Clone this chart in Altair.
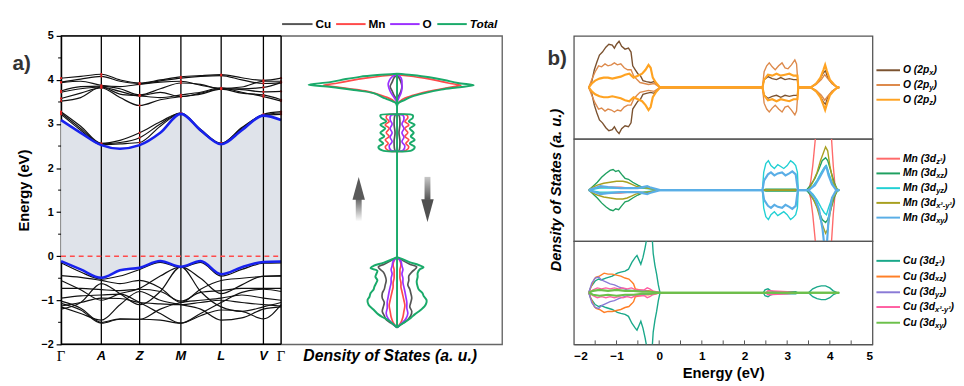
import altair as alt
import pandas as pd

FONT = "Liberation Sans"
SERIF = "Liberation Serif"

# ---------------- panel a) band structure ----------------
K_LABELS = ["Γ", "A", "Z", "M", "L", "V", "Γ"]
K_POS = [0, 41, 80, 122, 163, 206, 224]
# sampling grid along the path: Γ, ½, A, ½, Z, ½, M, ½, L, ½, V, Γ
K_GRID = [0, 20, 41, 60, 80, 101, 122, 142, 163, 184, 206, 224]

CBM = [3.09, 2.80, 2.52, 2.44, 2.52, 2.80, 3.23, 2.86, 2.54, 2.86, 3.19, 3.09]
VBM = [-0.11, -0.30, -0.49, -0.32, -0.26, -0.11, -0.24, -0.11, -0.41, -0.25, -0.13, -0.12]

UPPER_BANDS = [
    [4.04, 4.08, 4.13, 4.00, 3.93, 4.00, 4.07, 4.10, 4.12, 4.05, 3.99, 4.04],
    [3.95, 4.02, 4.08, 3.97, 3.92, 3.98, 4.04, 4.08, 4.10, 4.00, 3.92, 3.94],
    [3.94, 3.97, 3.88, 3.85, 3.90, 3.95, 3.97, 3.88, 3.81, 3.84, 3.97, 3.97],
    [3.75, 3.85, 3.86, 3.80, 3.66, 3.80, 3.93, 3.90, 3.80, 3.80, 3.83, 3.94],
    [3.72, 3.80, 3.84, 3.74, 3.64, 3.72, 3.62, 3.70, 3.80, 3.78, 3.73, 3.74],
    [3.58, 3.70, 3.82, 3.60, 3.42, 3.55, 3.62, 3.68, 3.79, 3.70, 3.66, 3.55],
    [3.52, 3.60, 3.84, 3.68, 3.64, 3.60, 3.66, 3.72, 3.82, 3.72, 3.62, 3.52],
]
COND_BANDS = [
    [3.28, 2.95, 2.56, 2.63, 2.80, 3.05, 3.25, 2.88, 2.56, 2.92, 3.22, 3.28],
    [3.25, 2.90, 2.55, 2.58, 2.69, 3.00, 3.25, 2.86, 2.56, 2.90, 3.21, 3.25],
    [3.22, 2.86, 2.53, 2.55, 2.58, 2.95, 3.24, 2.84, 2.55, 2.88, 3.20, 3.22],
]
VAL_BANDS = [
    [-0.15, -0.36, -0.52, -0.45, -0.30, -0.14, -0.26, -0.14, -0.45, -0.30, -0.16, -0.15],
    [-0.44, -0.48, -0.55, -0.62, -0.55, -0.72, -1.05, -0.75, -0.55, -0.50, -0.46, -0.44],
    [-0.55, -0.76, -1.00, -0.85, -0.73, -0.45, -0.24, -0.50, -0.85, -0.65, -0.45, -0.45],
    [-0.73, -0.73, -0.76, -0.78, -0.75, -0.80, -1.02, -0.82, -0.78, -0.73, -0.73, -0.73],
    [-0.95, -0.90, -0.88, -0.86, -1.05, -1.30, -1.52, -1.30, -1.05, -0.82, -0.75, -0.80],
    [-1.02, -1.18, -1.50, -1.42, -1.43, -1.20, -1.05, -1.00, -0.95, -0.88, -0.95, -1.00],
    [-1.07, -1.22, -1.52, -1.43, -1.43, -1.45, -1.52, -1.35, -1.22, -1.25, -1.42, -1.10],
    [-1.13, -1.05, -0.95, -0.96, -1.05, -1.08, -1.10, -1.05, -1.00, -1.05, -1.10, -1.13],
    [-1.20, -1.05, -0.62, -0.85, -1.10, -0.80, -0.24, -0.80, -1.15, -1.25, -1.15, -1.05],
    [-1.15, -1.30, -1.45, -1.10, -0.80, -1.00, -1.10, -1.20, -1.45, -1.40, -1.20, -1.15],
]
Y_MAJOR = [-2, -1, 0, 1, 2, 3, 4, 5]
Y_MINOR = [-1.5, -0.5, 0.5, 1.5, 2.5, 3.5, 4.5]

# ---------------- DOS (spin up drawn to the left, spin down to the right) ----------------
DOS_UP = {
    "Cu": [(-1.62, 0), (-1.52, 6), (-1.44, 11), (-1.35, 13), (-1.25, 15), (-1.15, 14), (-1.05, 13),
           (-0.95, 15), (-0.84, 15), (-0.75, 13), (-0.65, 12), (-0.55, 11), (-0.45, 12), (-0.36, 14),
           (-0.28, 18), (-0.24, 19), (-0.18, 13), (-0.10, 6), (-0.02, 0),
           (2.38, 0), (2.40, 2), (2.60, 3), (2.80, 2), (3.00, 3), (3.20, 2), (3.22, 0),
           (3.55, 0), (3.65, 3), (3.75, 5), (3.85, 7), (3.95, 5), (4.05, 3), (4.12, 0)],
    "Mn": [(-1.62, 0), (-1.50, 4), (-1.38, 6), (-1.25, 7), (-1.12, 8), (-1.00, 7), (-0.90, 6),
           (-0.80, 5), (-0.70, 4), (-0.60, 4), (-0.50, 3), (-0.40, 3), (-0.30, 3), (-0.20, 4),
           (-0.10, 3), (-0.02, 0),
           (2.38, 0), (2.40, 9), (2.48, 12), (2.56, 9), (2.64, 12), (2.72, 8), (2.80, 11), (2.90, 8),
           (2.98, 12), (3.06, 8), (3.14, 11), (3.20, 10), (3.22, 0),
           (3.45, 0), (3.55, 5), (3.62, 12), (3.68, 20), (3.74, 30), (3.80, 48), (3.85, 65),
           (3.88, 75), (3.93, 60), (3.99, 46), (4.04, 32), (4.09, 15), (4.12, 0)],
    "O": [(-1.62, 0), (-1.52, 5), (-1.42, 9), (-1.30, 11), (-1.18, 10), (-1.05, 10), (-0.92, 9),
          (-0.80, 8), (-0.70, 7), (-0.60, 6), (-0.50, 6), (-0.40, 5), (-0.30, 6), (-0.22, 5),
          (-0.12, 4), (-0.02, 0),
          (2.38, 0), (2.40, 6), (2.50, 8), (2.60, 5), (2.70, 7), (2.80, 5), (2.90, 7), (3.00, 5),
          (3.10, 7), (3.20, 6), (3.22, 0),
          (3.50, 0), (3.60, 3), (3.70, 6), (3.80, 8), (3.90, 9), (3.98, 8), (4.05, 6), (4.10, 3),
          (4.13, 0)],
    "Total": [(-1.62, 0), (-1.52, 5), (-1.44, 10), (-1.38, 15), (-1.32, 19), (-1.21, 24), (-1.10, 29),
              (-0.99, 30), (-0.92, 28), (-0.84, 27), (-0.76, 24), (-0.69, 23), (-0.60, 21),
              (-0.54, 20), (-0.47, 22), (-0.40, 21), (-0.33, 20), (-0.27, 27), (-0.22, 24),
              (-0.15, 14), (-0.08, 6), (-0.02, 0),
              (2.38, 0), (2.40, 15), (2.48, 19), (2.56, 14), (2.64, 18), (2.72, 13), (2.80, 17),
              (2.90, 12), (2.98, 17), (3.06, 11), (3.14, 16), (3.20, 17), (3.22, 0),
              (3.40, 0), (3.47, 1), (3.51, 4), (3.58, 12), (3.70, 24), (3.77, 44), (3.84, 67),
              (3.89, 90), (3.95, 68), (4.02, 52), (4.07, 38), (4.11, 20), (4.14, 0)],
}
DOS_DOWN = {
    "Cu": [(-1.62, 0), (-1.52, 6), (-1.44, 11), (-1.35, 14), (-1.25, 15), (-1.15, 13), (-1.05, 14),
           (-0.95, 15), (-0.84, 14), (-0.75, 13), (-0.65, 11), (-0.55, 12), (-0.45, 12), (-0.36, 15),
           (-0.28, 19), (-0.24, 20), (-0.18, 13), (-0.10, 6), (-0.02, 0),
           (2.38, 0), (2.40, 2), (2.60, 3), (2.80, 2), (3.00, 3), (3.20, 2), (3.22, 0),
           (3.55, 0), (3.65, 2), (3.75, 4), (3.85, 5), (3.95, 4), (4.05, 2), (4.12, 0)],
    "Mn": [(-1.62, 0), (-1.50, 4), (-1.38, 6), (-1.25, 7), (-1.12, 8), (-1.00, 7), (-0.90, 6),
           (-0.80, 5), (-0.70, 4), (-0.60, 4), (-0.50, 3), (-0.40, 3), (-0.30, 3), (-0.20, 4),
           (-0.10, 3), (-0.02, 0),
           (2.38, 0), (2.40, 9), (2.48, 12), (2.56, 9), (2.64, 12), (2.72, 8), (2.80, 11), (2.90, 8),
           (2.98, 12), (3.06, 8), (3.14, 11), (3.20, 10), (3.22, 0),
           (3.45, 0), (3.55, 5), (3.62, 12), (3.68, 21), (3.74, 32), (3.80, 46), (3.85, 58),
           (3.88, 65), (3.93, 52), (3.99, 40), (4.04, 28), (4.09, 12), (4.12, 0)],
    "O": [(-1.62, 0), (-1.52, 5), (-1.42, 9), (-1.30, 11), (-1.18, 10), (-1.05, 10), (-0.92, 9),
          (-0.80, 8), (-0.70, 7), (-0.60, 6), (-0.50, 6), (-0.40, 5), (-0.30, 6), (-0.22, 5),
          (-0.12, 4), (-0.02, 0),
          (2.38, 0), (2.40, 6), (2.50, 8), (2.60, 5), (2.70, 7), (2.80, 5), (2.90, 7), (3.00, 5),
          (3.10, 7), (3.20, 6), (3.22, 0),
          (3.50, 0), (3.60, 2), (3.70, 4), (3.80, 5), (3.90, 5), (3.98, 5), (4.05, 4), (4.10, 2),
          (4.13, 0)],
    "Total": [(-1.62, 0), (-1.55, 4), (-1.48, 9), (-1.40, 14), (-1.32, 18), (-1.22, 24), (-1.14, 28),
              (-1.05, 30), (-0.99, 30), (-0.90, 27), (-0.84, 26), (-0.75, 22), (-0.69, 21),
              (-0.58, 20), (-0.47, 21), (-0.38, 21), (-0.30, 23), (-0.25, 27), (-0.20, 22),
              (-0.13, 12), (-0.06, 5), (-0.02, 0),
              (2.38, 0), (2.40, 15), (2.48, 18), (2.56, 13), (2.64, 18), (2.72, 14), (2.80, 17),
              (2.90, 13), (2.98, 18), (3.06, 12), (3.14, 16), (3.20, 16), (3.22, 0),
              (3.40, 0), (3.47, 1), (3.55, 8), (3.62, 15), (3.70, 28), (3.78, 45), (3.83, 61),
              (3.88, 78), (3.93, 62), (4.00, 48), (4.06, 33), (4.11, 15), (4.14, 0)],
}
DOS_SPECIES = ["Cu", "Mn", "O", "Total"]
DOS_COLORS = {"Cu": "#555555", "Mn": "#ff4a4a", "O": "#9b30ff", "Total": "#1aaa6a"}
DOS_CENTER = [-1.62, 4.14]
# spin arrows (DOS units): shaft x-range, shaft energy range, head centre
ARROW_UP = {"x": (-42, -36), "E": (0.79, 1.30), "head": (-39, 1.54)}
ARROW_DN = {"x": (28, 34), "E": (1.28, 1.80), "head": (31, 1.035)}

# ---------------- panel b) projected DOS ----------------
O_ORBS = {
    "O (2px)": [(-1.65, 0), (-1.58, 6), (-1.52, 18), (-1.46, 26), (-1.40, 33), (-1.33, 36), (-1.25, 41),
                (-1.18, 44), (-1.10, 43), (-1.05, 40), (-1.00, 44), (-0.94, 47), (-0.88, 42),
                (-0.80, 39), (-0.72, 40), (-0.66, 36), (-0.62, 22), (-0.56, 18), (-0.50, 14),
                (-0.44, 12), (-0.38, 7), (-0.30, 6), (-0.20, 5), (-0.12, 6), (-0.05, 3), (0.02, 0),
                (2.42, 0), (2.46, 8), (2.55, 11), (2.65, 9), (2.75, 8), (2.85, 10), (2.95, 8),
                (3.05, 9), (3.15, 8), (3.24, 8), (3.26, 0), (3.55, 0), (3.65, 3), (3.75, 7),
                (3.85, 15), (3.90, 17), (3.95, 10), (4.05, 4), (4.18, 0), (4.22, 0)],
    "O (2py)": [(-1.65, 0), (-1.58, 8), (-1.50, 16), (-1.42, 22), (-1.35, 21), (-1.27, 24), (-1.20, 22),
                (-1.12, 23), (-1.05, 25), (-0.98, 23), (-0.90, 24), (-0.82, 20), (-0.74, 18),
                (-0.66, 18), (-0.60, 12), (-0.52, 8), (-0.45, 5), (-0.35, 4), (-0.25, 3),
                (-0.12, 4), (0.02, 0),
                (2.42, 0), (2.46, 16), (2.52, 22), (2.58, 25), (2.65, 21), (2.72, 18), (2.80, 22),
                (2.88, 25), (2.95, 20), (3.02, 19), (3.10, 23), (3.18, 28), (3.22, 24), (3.26, 0),
                (3.55, 0), (3.68, 3), (3.80, 8), (3.88, 13), (3.95, 9), (4.05, 4), (4.18, 0), (4.22, 0)],
    "O (2pz)": [(-1.65, 0), (-1.58, 4), (-1.50, 7), (-1.40, 9), (-1.30, 10), (-1.20, 10), (-1.10, 9),
                (-1.00, 10), (-0.90, 11), (-0.80, 13), (-0.70, 14), (-0.60, 10), (-0.50, 12),
                (-0.40, 14), (-0.32, 18), (-0.25, 23), (-0.20, 20), (-0.15, 10), (-0.08, 5), (0.02, 0),
                (2.42, 0), (2.46, 8), (2.55, 13), (2.65, 12), (2.75, 14), (2.85, 12), (2.95, 13),
                (3.05, 14), (3.15, 12), (3.24, 12), (3.26, 0), (3.55, 0), (3.68, 4), (3.78, 10),
                (3.85, 18), (3.89, 23), (3.93, 17), (4.00, 8), (4.10, 3), (4.18, 0), (4.22, 0)],
}
O_COLORS = ["#7b5230", "#dd8a4c", "#ffa322"]
O_LABELS = [("O (2p", "x"), ("O (2p", "y"), ("O (2p", "z")]

MN_ORBS = {
    "dz2": [(-1.65, 0), (-1.50, 2), (-1.30, 3), (-1.10, 3), (-0.90, 3), (-0.70, 2), (-0.50, 2),
            (-0.30, 2), (0.02, 0), (3.50, 0), (3.55, 8), (3.60, 25), (3.66, 52), (3.72, 65),
            (3.85, 72), (3.95, 72), (4.02, 65), (4.04, 52), (4.08, 25), (4.12, 5), (4.15, 0), (4.22, 0)],
    "dxz": [(-1.65, 0), (-1.55, 4), (-1.45, 8), (-1.35, 13), (-1.25, 17), (-1.15, 20), (-1.08, 21),
            (-1.02, 19), (-0.95, 20), (-0.88, 16), (-0.80, 12), (-0.72, 11), (-0.62, 8), (-0.50, 5),
            (-0.40, 3), (-0.25, 2), (0.02, 0), (2.42, 0), (2.50, 1), (3.20, 1), (3.25, 0), (3.45, 0),
            (3.55, 5), (3.65, 12), (3.75, 22), (3.82, 30), (3.90, 33), (3.95, 30), (4.02, 20),
            (4.10, 8), (4.18, 0), (4.22, 0)],
    "dyz": [(-1.65, 0), (-1.40, 2), (-1.10, 2), (-0.80, 2), (-0.40, 2), (0.02, 0),
            (2.42, 0), (2.45, 18), (2.50, 27), (2.56, 30), (2.62, 25), (2.70, 22), (2.78, 26),
            (2.85, 24), (2.92, 22), (3.00, 25), (3.08, 30), (3.14, 28), (3.20, 25), (3.24, 18),
            (3.26, 0), (3.50, 0), (3.60, 4), (3.70, 10), (3.80, 18), (3.87, 23), (3.92, 25),
            (3.97, 18), (4.05, 8), (4.15, 2), (4.22, 0)],
    "dx2y2": [(-1.65, 0), (-1.55, 3), (-1.45, 5), (-1.30, 7), (-1.15, 8), (-1.00, 9), (-0.85, 9),
              (-0.75, 8), (-0.65, 6), (-0.55, 4), (-0.45, 3), (-0.30, 2), (0.02, 0), (3.50, 0),
              (3.60, 8), (3.70, 18), (3.78, 30), (3.85, 38), (3.90, 44), (3.95, 40), (4.00, 25),
              (4.08, 8), (4.18, 0), (4.22, 0)],
    "dxy": [(-1.65, 0), (-1.45, 3), (-1.38, 4), (-1.20, 3), (-0.90, 2), (-0.50, 2), (-0.28, 4),
            (-0.22, 3), (0.02, 0),
            (2.42, 0), (2.46, 10), (2.55, 16), (2.62, 18), (2.70, 15), (2.78, 17), (2.88, 18),
            (2.96, 15), (3.05, 17), (3.12, 19), (3.20, 16), (3.25, 0), (3.50, 0), (3.65, 5),
            (3.75, 12), (3.85, 20), (3.90, 24), (3.93, 22), (3.97, 15), (4.05, 6), (4.15, 0), (4.22, 0)],
}
MN_DXY_DOWN = [(-1.65, 0), (-1.45, 3), (-1.38, 4), (-1.20, 3), (-0.90, 2), (-0.50, 2), (-0.28, 4),
               (-0.22, 3), (0.02, 0),
               (2.42, 0), (2.46, 10), (2.55, 16), (2.62, 18), (2.70, 15), (2.78, 17), (2.88, 18),
               (2.96, 15), (3.05, 17), (3.12, 19), (3.20, 16), (3.25, 0), (3.50, 0), (3.65, 8),
               (3.75, 20), (3.83, 40), (3.88, 60), (3.92, 62), (3.97, 30), (4.05, 8), (4.15, 0), (4.22, 0)]
MN_COLORS = ["#ff6a6a", "#1fa060", "#22d0d4", "#a8a020", "#5aaee6"]
MN_LABELS = [("Mn (3d", "z²"), ("Mn (3d", "xz"), ("Mn (3d", "yz"), ("Mn (3d", "x²-y²"), ("Mn (3d", "xy")]

CU_ORBS = {
    "dz2": [(-1.65, 0), (-1.60, 6), (-1.50, 12), (-1.42, 14), (-1.36, 13), (-1.25, 15), (-1.10, 17),
            (-0.98, 20), (-0.90, 21), (-0.80, 22), (-0.72, 24), (-0.64, 31), (-0.56, 36), (-0.52, 38),
            (-0.47, 33), (-0.43, 29), (-0.38, 36), (-0.33, 46), (-0.27, 60), (-0.22, 66), (-0.17, 60),
            (-0.14, 40), (-0.10, 28), (-0.06, 19), (-0.02, 8), (0.02, 0),
            (2.44, 0), (2.48, 3), (2.55, 4), (2.62, 2), (2.70, 1), (3.20, 1), (3.25, 0),
            (3.50, 0), (3.60, 4), (3.70, 6), (3.80, 7), (3.90, 7), (4.00, 5), (4.08, 2), (4.18, 0), (4.22, 0)],
    "dxz": [(-1.65, 0), (-1.58, 8), (-1.52, 14), (-1.48, 16), (-1.40, 17), (-1.29, 20), (-1.20, 19),
            (-1.10, 19), (-1.00, 18), (-0.90, 17), (-0.80, 15), (-0.71, 14), (-0.64, 11), (-0.60, 9),
            (-0.56, 4), (-0.45, 3), (-0.35, 2), (-0.25, 2), (0.02, 0)],
    "dyz": [(-1.65, 0), (-1.58, 10), (-1.50, 15), (-1.42, 16), (-1.35, 13), (-1.25, 11), (-1.15, 9),
            (-1.05, 8), (-0.95, 6), (-0.88, 5), (-0.75, 3), (-0.60, 2), (-0.40, 2), (0.02, 0)],
    "dx2y2": [(-1.65, 0), (-1.55, 3), (-1.45, 5), (-1.35, 4), (-1.25, 5), (-1.15, 4), (-1.05, 5),
              (-0.95, 4), (-0.85, 5), (-0.75, 4), (-0.65, 5), (-0.55, 3), (-0.45, 3), (-0.35, 3),
              (-0.28, 5), (-0.22, 4), (-0.15, 2), (0.02, 0), (2.50, 0), (2.55, 2), (3.0, 1), (3.2, 0)],
    "dxy": [(-1.65, 0), (-1.55, 2), (-1.40, 3), (-1.20, 2), (-1.00, 3), (-0.80, 2), (-0.60, 2),
            (-0.40, 1), (-0.20, 1), (0.02, 0), (4.22, 0)],
}
CU_COLORS = ["#1aa88a", "#ff7f27", "#8a7ad6", "#ff5fa2", "#6cc04a"]
CU_LABELS = [("Cu (3d", "z²"), ("Cu (3d", "xz"), ("Cu (3d", "yz"), ("Cu (3d", "x²-y²"), ("Cu (3d", "xy")]
E_MAJOR = [-2, -1, 0, 1, 2, 3, 4, 5]
E_MINOR = [-1.5, -1, -0.5, 0, 0.5, 1, 1.5, 2, 2.5, 3, 3.5, 4, 4.5]

# ---------------- helpers ----------------
ARIAL_BOLD = {" ": 278, "(": 333, ")": 333, "2": 556, "3": 556, "O": 778, "M": 833, "C": 722,
              "n": 611, "u": 611, "d": 611, "p": 611, "x": 556, "y": 556, "z": 500, "²": 333, "-": 333}


def text_w(s, size):
    return sum(ARIAL_BOLD.get(c, 556) for c in s) * size / 1000.0


def one():
    return pd.DataFrame({"d": [0]})


def deco_text(txt, x, y, size, color="black", style="normal", weight="bold", font=FONT, align="left", angle=0):
    return alt.Chart(one()).mark_text(
        text=txt, font=font, fontSize=size, fontWeight=weight, fontStyle=style, color=color,
        align=align, baseline="middle", angle=angle
    ).encode(x=alt.value(x), y=alt.value(y))


def deco_line(x1, x2, y, color, width=2.0, opacity=1.0):
    return alt.Chart(one()).mark_rule(color=color, strokeWidth=width, opacity=opacity).encode(
        x=alt.value(x1), x2=alt.value(x2), y=alt.value(y))


def segments(pts):
    """Split a curve into clusters wherever it runs along zero over a long gap."""
    seg, out = 0, []
    for i, (e, v) in enumerate(pts):
        if i > 0 and pts[i - 1][1] == 0 and v == 0 and e - pts[i - 1][0] > 0.15:
            seg += 1
        out.append((seg, e, v))
    return out


# ---------------- combined band + DOS chart (one shared x range, px-like units) ----------------
BW, DW, BH = 224, 225, 314
DOS_X0 = BW + 118          # where the DOS zero line sits inside the combined panel
XK = alt.X("k:Q", scale=alt.Scale(domain=[0, BW + DW], nice=False, zero=False), axis=None)
YE = alt.Y("E:Q", scale=alt.Scale(domain=[-2, 5], nice=False, zero=False),
           axis=alt.Axis(values=Y_MAJOR, format="d", tickSize=5, tickColor="black", tickWidth=1.2,
                         domainColor="black", domainWidth=1.4, labelFont=FONT, labelFontSize=11,
                         labelFontWeight="bold", labelColor="black", labelPadding=3, grid=False,
                         title="Energy (eV)", titleFont=FONT, titleFontSize=15, titleFontWeight="bold",
                         titleColor="black", titlePadding=10))

gap_df = pd.DataFrame({"k": K_GRID, "E": VBM, "E2": CBM})
rows = []
for i, b in enumerate(UPPER_BANDS + COND_BANDS + VAL_BANDS):
    for k, e in zip(K_GRID, b):
        rows.append({"band": f"b{i}", "k": k, "E": e})
black_df = pd.DataFrame(rows)
blue_rows = []
for name, b in (("cbm", CBM), ("vbm", VBM)):
    for k, e in zip(K_GRID, b):
        blue_rows.append({"band": name, "k": k, "E": e})
blue_df = pd.DataFrame(blue_rows)
dot_rows = []
for b in UPPER_BANDS + COND_BANDS:
    for idx in (0, 2, 4, 6, 8, 10, 11):
        dot_rows.append({"k": K_GRID[idx], "E": b[idx]})
dot_df = pd.DataFrame(dot_rows)
klab_df = pd.DataFrame({"k": K_POS, "label": K_LABELS})

layers = [
    alt.Chart(gap_df).mark_area(color="#dfe3ea", interpolate="monotone").encode(x=XK, y=YE, y2="E2:Q"),
    alt.Chart(pd.DataFrame({"k": K_POS[1:6]})).mark_rule(color="black", strokeWidth=1.3).encode(x=XK),
    alt.Chart(black_df).mark_line(color="#111111", strokeWidth=1.2, interpolate="monotone").encode(
        x=XK, y=YE, detail="band:N"),
    alt.Chart(dot_df).mark_circle(color="#e02020", size=5, opacity=1).encode(x=XK, y=YE),
    alt.Chart(blue_df).mark_line(color="#1822ee", strokeWidth=2.6, interpolate="monotone").encode(
        x=XK, y=YE, detail="band:N"),
    alt.Chart(pd.DataFrame({"E": [0], "k": [0], "k2": [BW]})).mark_rule(
        color="#ff4b4b", strokeDash=[5, 4], strokeWidth=1.6).encode(y=YE, x=XK, x2="k2:Q"),
    # black frame of the band panel (top, bottom, right Γ line)
    alt.Chart(pd.DataFrame({"E": [-2, 5], "k": [0, 0], "k2": [BW, BW]})).mark_rule(
        color="black", strokeWidth=1.5).encode(y=YE, x=XK, x2="k2:Q"),
    alt.Chart(pd.DataFrame({"k": [BW]})).mark_rule(color="black", strokeWidth=1.5).encode(x=XK),
    alt.Chart(pd.DataFrame({"E": Y_MINOR})).mark_rule(color="black", strokeWidth=1).encode(
        y=YE, x=alt.value(-3), x2=alt.value(0)),
    alt.Chart(klab_df[klab_df["label"] == "Γ"]).mark_text(
        font=SERIF, fontSize=15, color="black", baseline="middle").encode(x=XK, y=alt.value(BH + 12), text="label:N"),
    alt.Chart(klab_df[klab_df["label"] != "Γ"]).mark_text(
        font=FONT, fontSize=13, fontWeight="bold", fontStyle="italic", color="black", baseline="middle").encode(
        x=XK, y=alt.value(BH + 12), text="label:N"),
    deco_text("a)", -40, 29, 21, color="#333333", align="center"),
]

for sp in DOS_SPECIES:
    r = [{"spin": "up", "seg": s, "E": e, "k": DOS_X0 - v} for s, e, v in segments(DOS_UP[sp])]
    r += [{"spin": "down", "seg": s, "E": e, "k": DOS_X0 + v} for s, e, v in segments(DOS_DOWN[sp])]
    for row in r:
        row["grp"] = f'{row["spin"]}{row["seg"]}'
    layers.append(alt.Chart(pd.DataFrame(r)).mark_line(
        color=DOS_COLORS[sp], strokeWidth=2.0 if sp == "Total" else 1.7, interpolate="catmull-rom").encode(
        x=XK, y=YE, detail="grp:N", order="E:Q"))
layers.append(alt.Chart(pd.DataFrame({"E": [DOS_CENTER[0]], "E2": [DOS_CENTER[1]], "k": [DOS_X0]})).mark_rule(
    color=DOS_COLORS["Total"], strokeWidth=2).encode(x=XK, y=YE, y2="E2:Q"))

up_grad = alt.LinearGradient(gradient="linear", stops=[alt.GradientStop(offset=0, color="#ffffff"),
                                                       alt.GradientStop(offset=1, color="#666666")],
                             x1=0, x2=0, y1=1, y2=0)
dn_grad = alt.LinearGradient(gradient="linear", stops=[alt.GradientStop(offset=0, color="#c8c8c8"),
                                                       alt.GradientStop(offset=1, color="#555555")],
                             x1=0, x2=0, y1=0, y2=1)
for arr, grad, shape, col in ((ARROW_UP, up_grad, "M0,-1L0.55,1L-0.55,1Z", "#5a5a5a"),
                              (ARROW_DN, dn_grad, "M0,1L0.55,-1L-0.55,-1Z", "#505050")):
    shaft = pd.DataFrame({"k": [DOS_X0 + arr["x"][0]], "k2": [DOS_X0 + arr["x"][1]],
                          "E": [arr["E"][0]], "E2": [arr["E"][1]]})
    head = pd.DataFrame({"k": [DOS_X0 + arr["head"][0]], "E": [arr["head"][1]]})
    layers.append(alt.Chart(shaft).mark_rect(color=grad).encode(x=XK, x2="k2:Q", y=YE, y2="E2:Q"))
    layers.append(alt.Chart(head).mark_point(shape=shape, filled=True, opacity=1, color=col, size=529).encode(
        x=XK, y=YE))

LEG_Y = -12
for (x1, x2, tx, sp, italic) in [(1, 32, 35, "Cu", False), (56, 86, 89, "Mn", False),
                                 (111, 141, 144, "O", False), (159, 189, 192, "Total", True)]:
    layers.append(deco_line(BW + x1, BW + x2, LEG_Y, DOS_COLORS[sp], 2))
    layers.append(deco_text(sp, BW + tx, LEG_Y, 12, style="italic" if italic else "normal"))
layers.append(deco_text("Density of States (a. u.)", BW + 111, BH + 12, 16, style="italic", align="center"))

left = alt.layer(*layers).properties(
    width=BW + DW, height=BH, view=alt.ViewBackground(stroke="#666666", strokeWidth=1.4))

# ---------------- PDOS panels ----------------
PW = 304


def pdos_panel(orbs, colors, labels, h, rows_y, bottom, downs=None, extra=None):
    XE = alt.X("E:Q", scale=alt.Scale(domain=[-2, 5], nice=False, zero=False),
               axis=alt.Axis(values=E_MAJOR, format="d", ticks=False, domainColor="#555555",
                             labelFont=FONT, labelFontSize=12, labelFontWeight="bold", labelColor="black",
                             labelPadding=6, grid=False, title="Energy (eV)", titleFont=FONT,
                             titleFontSize=15, titleFontWeight="bold", titleColor="black",
                             titlePadding=5) if bottom else None)
    YV = alt.Y("v:Q", scale=alt.Scale(domain=[-h / 2, h / 2], nice=False, zero=False), axis=None)
    lyr = []
    for i, (name, pts) in enumerate(orbs.items()):
        dn = downs.get(name, pts) if downs else pts
        r = [{"spin": "up", "E": e, "v": v} for e, v in pts]
        r += [{"spin": "down", "E": e, "v": -v} for e, v in dn]
        lyr.append(alt.Chart(pd.DataFrame(r)).mark_line(
            color=colors[i], strokeWidth=2.2 if i == len(orbs) - 1 else 1.4, clip=True).encode(
            x=XE, y=YV, detail="spin:N", order="E:Q"))
    if bottom:
        lyr.append(alt.Chart(pd.DataFrame({"E": E_MINOR})).mark_rule(color="#555555", strokeWidth=1).encode(
            x=XE, y=alt.value(h), y2=alt.value(h - 4)))
    for i, ((pre, sub), yy) in enumerate(zip(labels, rows_y)):
        lyr.append(deco_line(308, 332, yy, colors[i], 2))
        x0 = 335
        lyr.append(deco_text(pre, x0, yy, 10.5, style="italic"))
        xs = x0 + text_w(pre, 10.5)
        lyr.append(deco_text(sub, xs, yy + 3, 7.5, style="italic"))
        xc = xs + text_w(sub, 7.5)
        lyr.append(deco_text(")", xc, yy, 10.5, style="italic"))
    if extra:
        lyr += extra
    return alt.layer(*lyr).properties(
        width=PW, height=h, view=alt.ViewBackground(stroke="#555555", strokeWidth=1.3))


p_o = pdos_panel(O_ORBS, O_COLORS, O_LABELS, 105, [35, 50, 65], False,
                 extra=[deco_text("b)", -17, 24, 21, color="#333333", align="center")])
p_mn = pdos_panel(MN_ORBS, MN_COLORS, MN_LABELS, 104, [20, 35, 50, 65, 80], False,
                  downs={"dxy": MN_DXY_DOWN},
                  extra=[deco_text("Density of States (a. u.)", -18, 52, 15, style="italic",
                                   align="center", angle=270)])
p_cu = pdos_panel(CU_ORBS, CU_COLORS, CU_LABELS, 105, [20, 36, 52, 67, 83], True)

right = alt.vconcat(p_o, p_mn, p_cu, spacing=0, bounds="flush")
chart = alt.hconcat(left, right, spacing=73, bounds="flush").properties(
    padding={"left": 3, "top": 6, "right": 0, "bottom": 0}
).configure(font=FONT)

chart.save("out.html", embed_options={"renderer": "svg", "actions": False})
